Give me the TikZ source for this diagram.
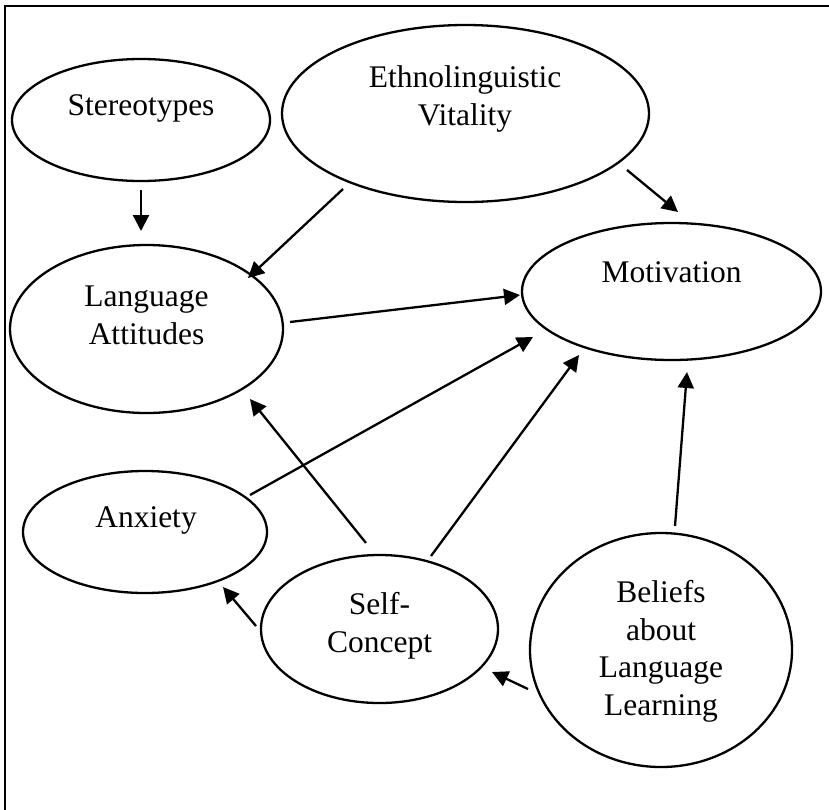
\documentclass[tikz,border=0pt]{standalone}
\usepackage{fontspec}
\setmainfont{Liberation Serif}
\usetikzlibrary{shapes.geometric,arrows.meta}
\begin{document}
\begin{tikzpicture}[x=1pt,y=-1pt,
  ell/.style={ellipse,draw,line width=2.3pt,inner sep=0pt},
  lbl/.style={font=\fontsize{31.5}{37.5}\selectfont,align=center,inner sep=0pt,anchor=base},
  arr/.style={line width=2.3pt,-{Triangle[length=16pt,width=16pt]}}]
\useasboundingbox (0,0) rectangle (829,809);
\clip (0,0) rectangle (829,809);
\draw[line width=2.3pt] (5,820) -- (5,6) -- (840,6);
% ellipses
\node[ell,minimum width=258pt,minimum height=122pt] (st) at (141,120) {};
\node[ell,minimum width=367pt,minimum height=177pt] (ev) at (465.5,113.5) {};
\node[ell,minimum width=273pt,minimum height=168pt] (la) at (146.5,329) {};
\node[ell,minimum width=299pt,minimum height=137pt] (mo) at (671.5,291.5) {};
\node[ell,minimum width=244pt,minimum height=122pt] (ax) at (145,532) {};
\node[ell,minimum width=237pt,minimum height=148pt] (sc) at (379.5,629) {};
\node[ell,minimum width=262pt,minimum height=234pt] (be) at (661,650) {};
% labels
\node[lbl] (stT) at (141,115) {Stereotypes};
\node[lbl] (evT) at (465,125) {Ethnolinguistic\\Vitality};
\node[lbl] (laT) at (146.5,344) {Language\\Attitudes};
\node[lbl] (moT) at (671.5,282) {Motivation};
\node[lbl] (axT) at (146,527) {Anxiety};
\node[lbl] (scT) at (379.5,652) {Self-\\Concept};
\node[lbl] (beT) at (661,715) {Beliefs\\about\\Language\\Learning};
% connector end points
\coordinate (a1) at (141,190);  \coordinate (b1) at (141,231);
\coordinate (a2) at (343,189);  \coordinate (b2) at (248,278);
\coordinate (a3) at (627,170);  \coordinate (b3) at (678,212);
\coordinate (a4) at (290,322);  \coordinate (b4) at (520,295);
\coordinate (a5) at (250,495);  \coordinate (b5) at (533,337);
\coordinate (a6) at (366,543);  \coordinate (b6) at (250,399);
\coordinate (a7) at (431,556);  \coordinate (b7) at (579,355);
\coordinate (a8) at (256,626);  \coordinate (b8) at (223,587);
\coordinate (a9) at (528,689);  \coordinate (b9) at (492,672);
\coordinate (a10) at (675,526); \coordinate (b10) at (687,372);
\draw[arr] (a1) -- (b1);
\draw[arr] (a2) -- (b2);
\draw[arr] (a3) -- (b3);
\draw[arr] (a4) -- (b4);
\draw[arr] (a5) -- (b5);
\draw[arr] (a6) -- (b6);
\draw[arr] (a7) -- (b7);
\draw[arr] (a8) -- (b8);
\draw[arr] (a9) -- (b9);
\draw[arr] (a10) -- (b10);
\end{tikzpicture}
\end{document}
